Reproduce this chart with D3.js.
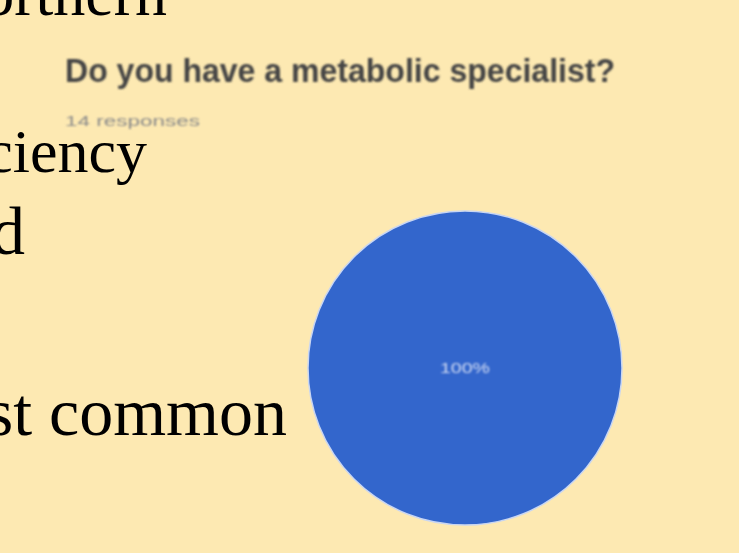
<!DOCTYPE html>
<html>
<head>
  <script src="https://cdnjs.cloudflare.com/ajax/libs/d3/7.8.5/d3.min.js"></script>
  <style>
    body, html {
      margin: 0;
      padding: 0;
      overflow: hidden;
      background: #fde9b2;
    }
  </style>
</head>
<body>
  <div id="chart"></div>
  <script>
    // chart data
    const categories = ["Yes"];
    const values = [14];
    const colors = ["#3366cc"];
    const title = "Do you have a metabolic specialist?";
    const subtitle = "14 responses";

    // slide text left of the chart (clipped at the left edge)
    const slideLines = ["Northern", "deficiency", "and", "most common"];

    const width = 739, height = 553;

    const svg = d3.select("#chart")
      .append("svg")
      .attr("width", width)
      .attr("height", height);

    svg.append("rect")
      .attr("width", width)
      .attr("height", height)
      .attr("fill", "#fde9b2");

    const defs = svg.append("defs");
    defs.append("filter")
      .attr("id", "soft")
      .append("feGaussianBlur")
      .attr("stdDeviation", 0.9);

    // slide body text, right edges, baselines and sizes
    const lineRight = [167, 147, 25, 287];
    const lineBase = [15, 172, 254, 435];
    const lineSize = [64, 62, 68, 68];
    svg.append("g")
      .selectAll("text")
      .data(slideLines)
      .join("text")
      .attr("x", (d, i) => lineRight[i])
      .attr("y", (d, i) => lineBase[i])
      .attr("text-anchor", "end")
      .attr("font-family", "'Liberation Serif', 'Times New Roman', serif")
      .attr("font-size", (d, i) => lineSize[i])
      .attr("fill", "#000")
      .text(d => d);

    // title and subtitle
    svg.append("text")
      .attr("x", 65)
      .attr("y", 82)
      .attr("font-family", "'Liberation Sans', Arial, sans-serif")
      .attr("font-weight", "bold")
      .attr("font-size", 34)
      .attr("fill", "#444")
      .attr("textLength", 550)
      .attr("lengthAdjust", "spacingAndGlyphs")
      .attr("filter", "url(#soft)")
      .text(title);

    svg.append("text")
      .attr("x", 65)
      .attr("y", 126)
      .attr("font-family", "'Liberation Sans', Arial, sans-serif")
      .attr("font-size", 15)
      .attr("fill", "#8a8a8a")
      .attr("textLength", 135)
      .attr("lengthAdjust", "spacingAndGlyphs")
      .attr("filter", "url(#soft)")
      .text(subtitle);

    // pie
    const cx = 465, cy = 368, r = 157;
    const pie = d3.pie().sort(null);
    const arc = d3.arc().innerRadius(0).outerRadius(r);
    const total = d3.sum(values);

    const g = svg.append("g").attr("transform", `translate(${cx},${cy})`);

    g.selectAll("path")
      .data(pie(values))
      .join("path")
      .attr("d", arc)
      .attr("fill", (d, i) => colors[i])
      .attr("stroke", "#c9d6f2")
      .attr("stroke-width", 1.5);

    g.selectAll("text")
      .data(pie(values))
      .join("text")
      .attr("transform", d => values.length === 1 ? "translate(0,0)" : `translate(${arc.centroid(d)})`)
      .attr("text-anchor", "middle")
      .attr("dy", "0.35em")
      .attr("font-family", "'Liberation Sans', Arial, sans-serif")
      .attr("font-size", 15)
      .attr("textLength", 50)
      .attr("lengthAdjust", "spacingAndGlyphs")
      .attr("fill", "#d3ddf5")
      .attr("filter", "url(#soft)")
      .text(d => d3.format(".0%")(d.value / total));
  </script>
</body>
</html>
